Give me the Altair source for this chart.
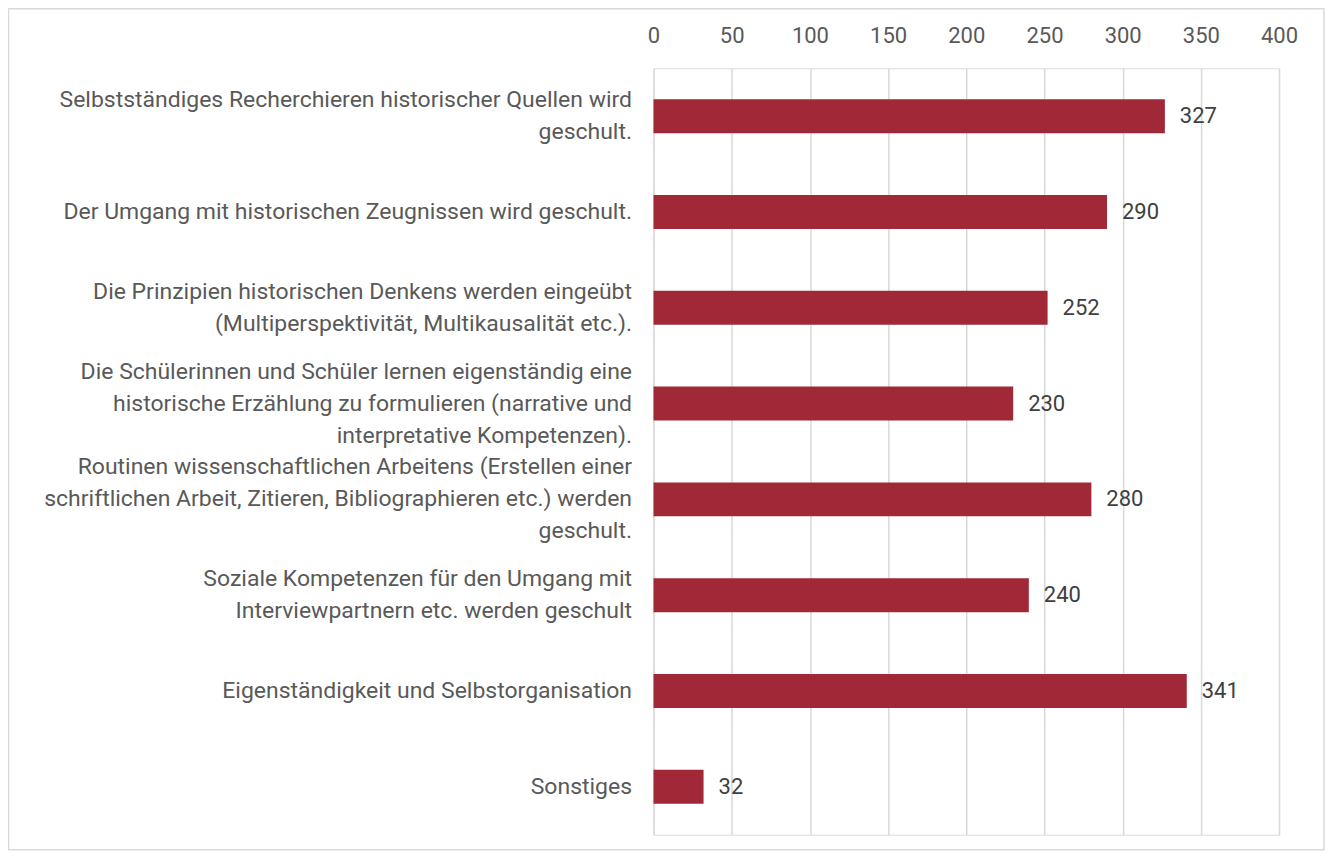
import altair as alt
import pandas as pd

categories = [
    "Selbstständiges Recherchieren historischer Quellen wird|geschult.",
    "Der Umgang mit historischen Zeugnissen wird geschult.",
    "Die Prinzipien historischen Denkens werden eingeübt|(Multiperspektivität, Multikausalität etc.).",
    "Die Schülerinnen und Schüler lernen eigenständig eine|historische Erzählung zu formulieren (narrative und|interpretative Kompetenzen).",
    "Routinen wissenschaftlichen Arbeitens (Erstellen einer|schriftlichen Arbeit, Zitieren, Bibliographieren etc.) werden|geschult.",
    "Soziale Kompetenzen für den Umgang mit|Interviewpartnern etc. werden geschult",
    "Eigenständigkeit und Selbstorganisation",
    "Sonstiges",
]
values = [327, 290, 252, 230, 280, 240, 341, 32]
x_ticks = [0, 50, 100, 150, 200, 250, 300, 350, 400]

df = pd.DataFrame({"cat": categories, "val": values})

FONT = "Roboto"
LINE_H = 32
W, H = 626, 767

y_enc = alt.Y(
    "cat:N",
    sort=categories,
    title=None,
    scale=alt.Scale(paddingInner=0, paddingOuter=0),
    axis=alt.Axis(
        labelExpr="split(datum.label, '|')",
        labelAlign="right",
        labelBaseline="middle",
        labelPadding=22,
        labelFontSize=23,
        labelLineHeight=LINE_H,
        labelColor="#595959",
        labelFont=FONT,
        labelLimit=700,
        labelOffset={
            "condition": [
                {"test": "length(split(datum.label, '|')) == 2", "value": -LINE_H / 2},
                {"test": "length(split(datum.label, '|')) == 3", "value": -LINE_H},
            ],
            "value": 0,
        },
        ticks=False,
        domain=False,
        grid=False,
    ),
)

x_enc = alt.X(
    "val:Q",
    title=None,
    scale=alt.Scale(domain=[0, 400], nice=False),
    axis=alt.Axis(
        orient="top",
        values=x_ticks,
        labelFontSize=22,
        labelColor="#595959",
        labelFont=FONT,
        labelPadding=21,
        labelFlush=False,
        ticks=False,
        domain=False,
        grid=True,
        gridColor="#D9D9D9",
        gridWidth=1.5,
    ),
)

bars = alt.Chart(df).mark_bar(size=34, color="#A12836").encode(x=x_enc, y=y_enc)

labels = alt.Chart(df).mark_text(
    align="left", baseline="middle", dx=15, fontSize=22, font=FONT, color="#404040"
).encode(x="val:Q", y=alt.Y("cat:N", sort=categories), text="val:Q")

frame = alt.Chart(df.head(1)).mark_rect(
    fill=None, stroke="#D9D9D9", strokeWidth=1.5
).encode(
    x=alt.value(-645.5), x2=alt.value(W + 45), y=alt.value(-59.5), y2=alt.value(H + 15)
)

chart = (
    alt.layer(bars, labels, frame)
    .properties(
        width=W,
        height=H,
        autosize=alt.AutoSizeParams(type="none"),
        padding={"left": 646, "top": 60, "right": 46, "bottom": 16},
    )
    .configure_view(stroke=None)
    .configure(background="white")
)

chart.save("out.html", embed_options={"renderer": "svg", "actions": False})
